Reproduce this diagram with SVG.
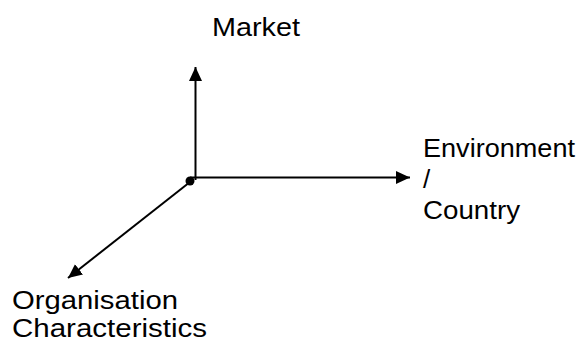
<svg xmlns="http://www.w3.org/2000/svg" width="587" height="346" viewBox="0 0 587 346">
<style>
  .lbl { font-family: "Liberation Sans", Arial, sans-serif; font-size: 26px; fill: #000; }
  .ax { stroke: #000; stroke-width: 2; fill: none; }
</style>
<defs>
  <marker id="arr" markerUnits="userSpaceOnUse" markerWidth="16" markerHeight="14" refX="14" refY="6.5" orient="auto">
    <path d="M0,0 L14,6.5 L0,13 z" fill="#000"/>
  </marker>
</defs>
<rect width="587" height="346" fill="#fff"/>
<g id="connectors">
  <line class="ax" x1="195.5" y1="180" x2="195.5" y2="67" marker-end="url(#arr)"/>
  <line class="ax" x1="190" y1="177.5" x2="410" y2="177.5" marker-end="url(#arr)"/>
  <line class="ax" x1="190" y1="182" x2="68" y2="278" marker-end="url(#arr)"/>
  <circle cx="190" cy="181" r="4.5" fill="#000"/>
</g>
<g id="market">
  <text class="lbl" x="212" y="35.5" textLength="88" lengthAdjust="spacingAndGlyphs">Market</text>
</g>
<g id="environment">
  <text class="lbl" x="423" y="157" textLength="152" lengthAdjust="spacingAndGlyphs">Environment</text>
  <text class="lbl" x="423" y="188">/</text>
  <text class="lbl" x="423" y="219" textLength="97" lengthAdjust="spacingAndGlyphs">Country</text>
</g>
<g id="organisation">
  <text class="lbl" x="12" y="309" textLength="166" lengthAdjust="spacingAndGlyphs">Organisation</text>
  <text class="lbl" x="12" y="337" textLength="195" lengthAdjust="spacingAndGlyphs">Characteristics</text>
</g>
</svg>
